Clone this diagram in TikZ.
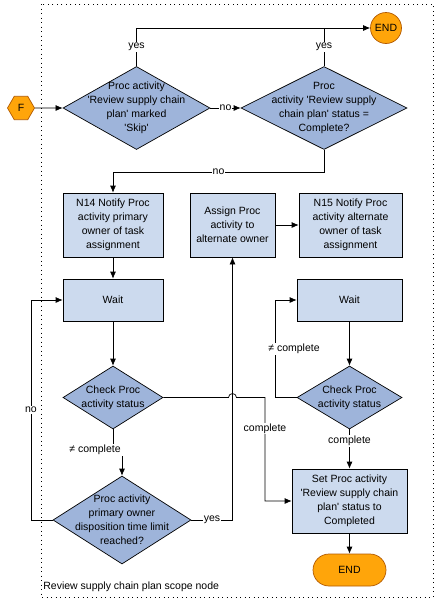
\documentclass[tikz,border=0pt]{standalone}
\usepackage{fontspec}
\setmainfont{Liberation Sans}
\usetikzlibrary{shapes.geometric,calc,arrows.meta}
\definecolor{diafill}{RGB}{158,180,218}
\definecolor{boxfill}{RGB}{204,218,238}
\definecolor{termfill}{RGB}{255,165,10}

\begin{document}
\begin{tikzpicture}[x=1pt,y=-1pt,>={Latex[length=7pt,width=6pt]},line width=0.7pt,
    every node/.style={font=\fontsize{10.5}{14}\selectfont},
    proc/.style={draw,fill=boxfill,minimum height=64pt,inner sep=0pt,align=center},
    decision/.style={draw,diamond,fill=diafill,inner sep=0pt},
    txt/.style={align=center,inner sep=0pt},
    lbl/.style={fill=white,inner sep=1pt},
    term/.style={draw=orange!70!black,fill=termfill,inner sep=0pt}]
    \useasboundingbox (0,0) rectangle (437,600);
    \draw[dash pattern=on 1pt off 3.5pt,line width=0.9pt] (41,4) rectangle (433,597); %范围框
    \node[anchor=west,inner sep=0pt] (scope) at (43,587) {Review supply chain plan scope node};

    \node[term,regular polygon,regular polygon sides=6,minimum size=27pt] (start) at (21,108) {F};
    \node[term,circle,minimum size=31pt] (end1) at (386,28) {END};
    \node[decision,minimum width=147pt,minimum height=83pt] (skip) at (136.5,108) {};
    \node[txt] (skipt) at (136.5,108) {Proc activity\\\textquotesingle Review supply chain\\plan\textquotesingle{} marked\\\textquotesingle Skip\textquotesingle};
    \node[decision,minimum width=166pt,minimum height=83pt] (cmpl) at (324,108) {};
    \node[txt] (cmplt) at (324,108) {Proc\\activity \textquotesingle Review supply\\chain plan\textquotesingle{} status =\\Complete?};

    \node[proc,minimum width=100pt] (n14) at (113,225) {N14 Notify Proc\\activity primary\\owner of task\\assignment};
    \node[proc,minimum width=85pt] (assign) at (232.5,225) {Assign Proc\\activity to\\alternate owner};
    \node[proc,minimum width=103pt] (n15) at (350.5,225) {N15 Notify Proc\\activity alternate\\owner of task\\assignment};
    \node[proc,minimum width=100pt,minimum height=42pt] (wait1) at (113,300) {Wait};
    \node[proc,minimum width=105pt,minimum height=42pt] (wait2) at (349.5,300) {Wait};

    \node[decision,minimum width=100pt,minimum height=63pt] (chk1) at (113,397.5) {};
    \node[txt] (chk1t) at (113,397.5) {Check Proc\\activity status};
    \node[decision,minimum width=105pt,minimum height=63pt] (chk2) at (349.5,397.5) {};
    \node[txt] (chk2t) at (349.5,397.5) {Check Proc\\activity status};
    \node[decision,minimum width=138pt,minimum height=88pt] (limit) at (122,520) {};
    \node[txt] (limitt) at (122,520) {Proc activity\\primary owner\\disposition time limit\\reached?};
    \node[proc,minimum width=115pt] (setc) at (349.5,501) {Set Proc activity\\\textquotesingle Review supply chain\\plan\textquotesingle{} status to\\Completed};
    \node[term,rounded corners=16pt,minimum width=73pt,minimum height=32pt] (end2) at (349.5,570) {END};

    % 连线
    \draw[->] (start) -- (skip);
    \draw[->] (skip.east) -- node[lbl]{no} (cmpl.west);
    \draw[->] (skip.north) |- node[lbl,pos=0.25]{yes} (end1.west);
    \draw (cmpl.north) -- node[lbl]{yes} (cmpl.north |- end1.west);
    \coordinate (k1) at (113,172);
    \draw[->] (cmpl.south) |- node[lbl,pos=0.75]{no} (k1) -- (n14.north);
    \draw[->] (n14) -- (wait1);
    \draw[->] (wait1) -- (chk1);
    \draw[->] (assign) -- (n15);
    \draw[->] (wait2) -- (chk2);
    \draw[->] (chk2) -- node[lbl,pos=0.3]{complete} (setc);
    \draw[->] (setc) -- (end2);

    \node[lbl] (neq1) at (95,450) {≠ complete};
    \draw (chk1.south) -- (chk1.south |- neq1.north);
    \draw[->] (limit.north |- neq1.south) -- (limit.north);
    \draw[->] (limit.east) -| node[lbl,pos=0.25]{yes} (assign.south);
    \draw[->] (limit.west) -- (31,520) |- node[lbl,pos=0.25]{no} (wait1.west);
    \draw[->] (chk1.east) -- (228.5,397.5) arc[start angle=180,end angle=360,radius=4]
        -- (265,397.5) |- node[lbl,pos=0.15]{complete} (setc.west);
    \draw[->] (chk2.west) -- (275,397.5) |- node[lbl,pos=0.25,anchor=west,xshift=-8pt]{≠ complete} (wait2.west);
\end{tikzpicture}
\end{document}
